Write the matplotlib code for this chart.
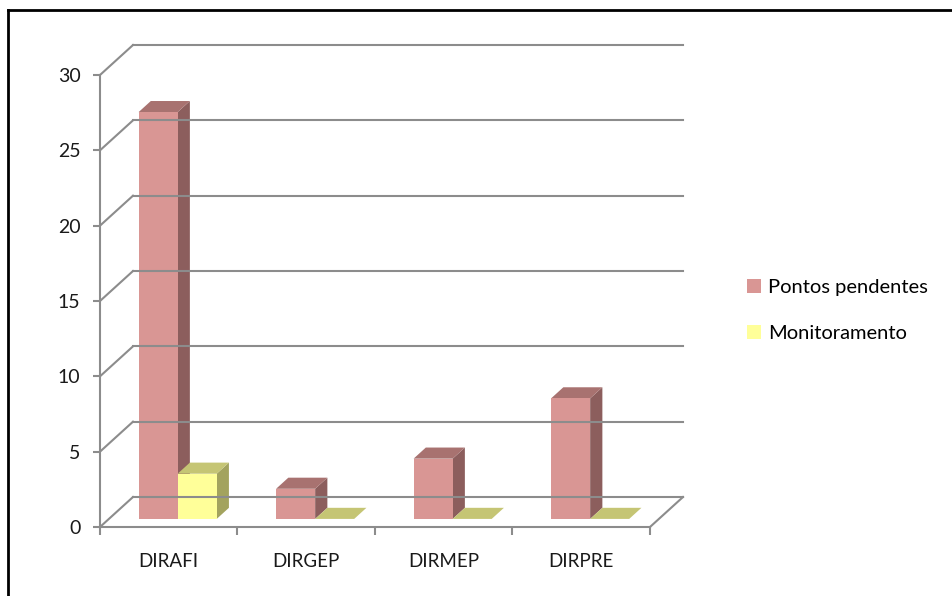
import matplotlib.pyplot as plt
from matplotlib.patches import Polygon, Patch
from matplotlib.lines import Line2D

categories = ['DIRAFI', 'DIRGEP', 'DIRMEP', 'DIRPRE']
pendentes = [27, 2, 4, 8]
monitoramento = [3, 0, 0, 0]
series_names = ['Pontos pendentes', 'Monitoramento']
yticks = [0, 5, 10, 15, 20, 25, 30]

# face colours: front, top, side
pink = ('#D99694', '#A87270', '#8C5E5D')
yellow = ('#FFFF99', '#C5C574', '#A3A35E')
grid_c = '#8C8C8C'

plt.rcParams['font.family'] = ['Lato', 'DejaVu Sans']

fig = plt.figure(figsize=(9.52, 5.96), dpi=100)
ax = fig.add_axes([100 / 952, 69 / 596, 550 / 952, 452 / 596])
ax.set_xlim(0, len(categories))
ax.set_ylim(0, 30)

# depth of the walls (in data units) and the depth slab the bars occupy
wdx, wdy = 0.24, 1.99
t1, t2 = 0.27, 0.64
bw = 0.284


def pt(x, y, t):
    return (x + wdx * t, y + wdy * t)


# left wall diagonals + back wall gridlines
for v in yticks:
    ax.add_line(Line2D([0, wdx], [v, v + wdy], color=grid_c, lw=1.5, clip_on=False))
    ax.add_line(Line2D([wdx, len(categories) + wdx], [v + wdy, v + wdy],
                       color=grid_c, lw=1.5, clip_on=False))
# floor right edge
ax.add_line(Line2D([len(categories), len(categories) + wdx], [0, wdy],
                   color=grid_c, lw=1.5, clip_on=False))


def bar3d(x0, h, cols):
    x1 = x0 + bw
    top = Polygon([pt(x0, h, t1), pt(x1, h, t1), pt(x1, h, t2), pt(x0, h, t2)],
                  closed=True, fc=cols[1], ec='none', clip_on=False)
    if h == 0:
        ax.add_patch(top)
        return
    front = Polygon([pt(x0, 0, t1), pt(x1, 0, t1), pt(x1, h, t1), pt(x0, h, t1)],
                    closed=True, fc=cols[0], ec='none', clip_on=False)
    side = Polygon([pt(x1, 0, t1), pt(x1, 0, t2), pt(x1, h, t2), pt(x1, h, t1)],
                   closed=True, fc=cols[2], ec='none', clip_on=False)
    for p in (side, top, front):
        ax.add_patch(p)


for i in range(len(categories)):
    bar3d(i + 0.5 - bw, pendentes[i], pink)
    bar3d(i + 0.5, monitoramento[i], yellow)

for s in ['top', 'right']:
    ax.spines[s].set_visible(False)
for s in ['left', 'bottom']:
    ax.spines[s].set_color(grid_c)
    ax.spines[s].set_linewidth(1.5)

ax.set_yticks(yticks)
ax.set_xticks(range(len(categories) + 1))
ax.set_xticklabels([])
ax.set_xticks([i + 0.5 for i in range(len(categories))], minor=True)
ax.set_xticklabels(categories, minor=True)
ax.tick_params(axis='y', colors=grid_c, length=5, width=1.5, labelcolor='#1a1a1a',
               labelsize=14, pad=9)
ax.tick_params(axis='x', which='major', colors=grid_c, length=6, width=1.5)
ax.tick_params(axis='x', which='minor', length=0, labelcolor='#1a1a1a',
               labelsize=13.5, pad=19)

handles = [Patch(fc=pink[0], ec='none'), Patch(fc=yellow[0], ec='none')]
fig.legend(handles, series_names, loc='upper left', bbox_to_anchor=(0.7655, 0.563),
           frameon=False, fontsize=14.5, handlelength=0.7, handleheight=0.7,
           handletextpad=0.35, labelspacing=1.45)

# outer frame (cropped at right and bottom)
fig.add_artist(Line2D([8 / 952, 8 / 952], [0, 1 - 10 / 596], color='black', lw=2))
fig.add_artist(Line2D([8 / 952, 1], [1 - 10 / 596, 1 - 10 / 596], color='black', lw=2))

fig.savefig('out.png', dpi=100)
